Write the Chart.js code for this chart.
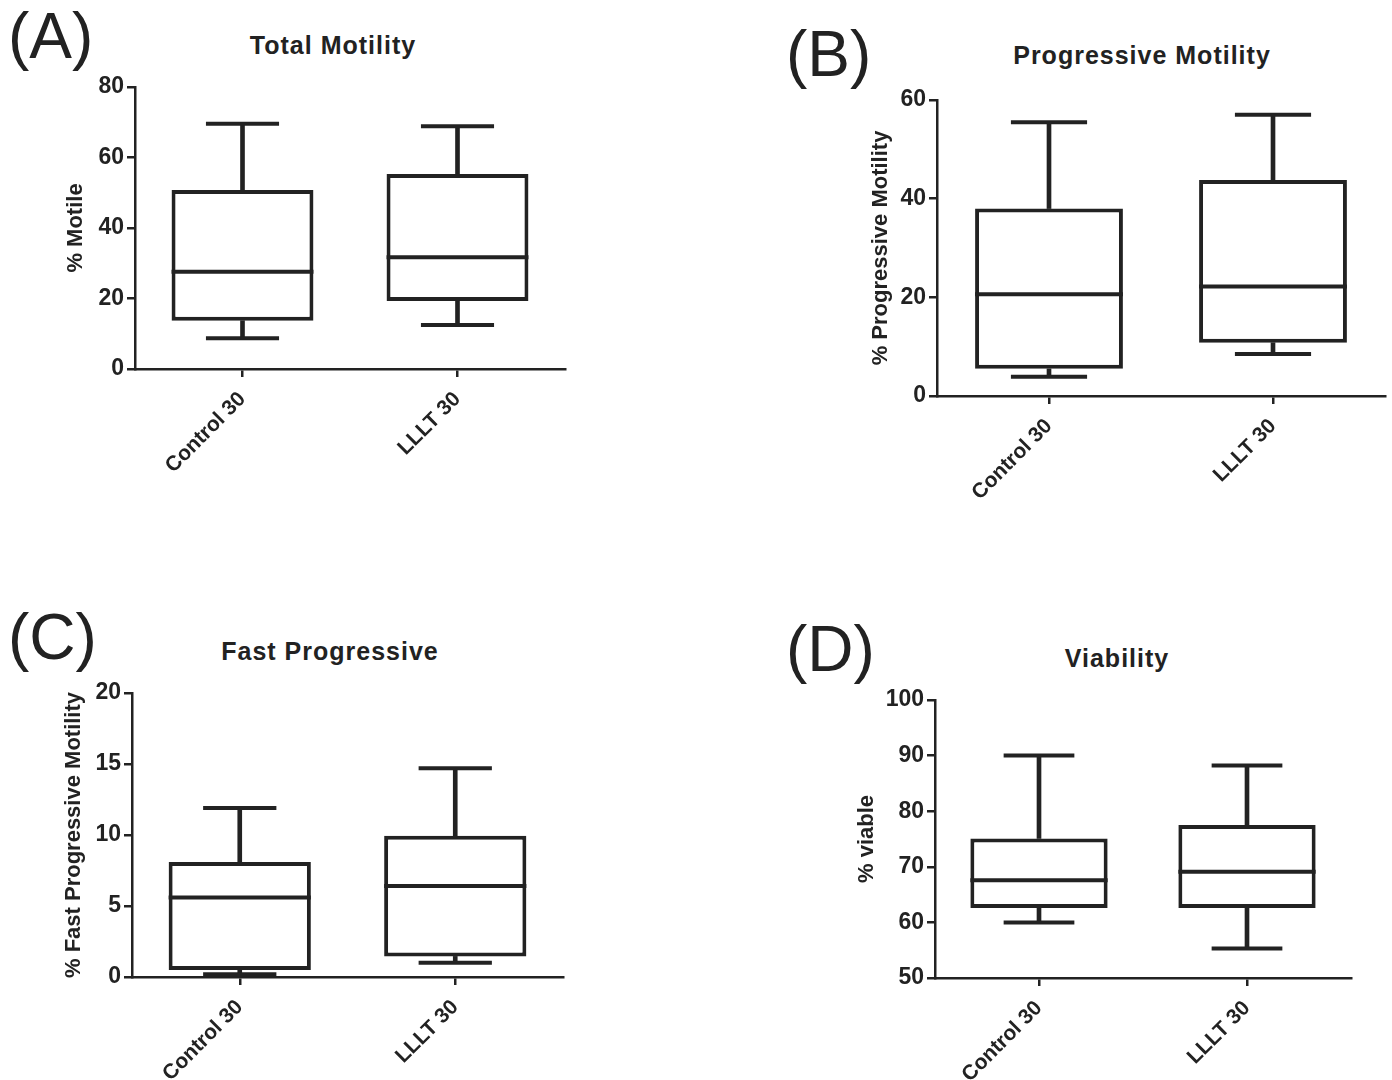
<!DOCTYPE html>
<html><head><meta charset="utf-8">
<script src="https://cdn.jsdelivr.net/npm/chart.js@4/dist/chart.umd.min.js"></script>
<style>
html,body{margin:0;padding:0;background:#fff;width:1392px;height:1080px;overflow:hidden;}
canvas{position:absolute;}
.lab{position:absolute;font-family:'Liberation Sans',Arial,sans-serif;font-size:64px;color:#222;line-height:1;white-space:nowrap;}
.ttl{position:absolute;font-family:'Liberation Sans',Arial,sans-serif;font-weight:bold;font-size:25px;color:#222;letter-spacing:1px;transform:translate(-50%,-50%);white-space:nowrap;}
</style></head><body>
<div class="lab" style="left:8px;top:4px">(A)</div>
<div class="lab" style="left:786px;top:22px">(B)</div>
<div class="lab" style="left:8px;top:605px">(C)</div>
<div class="lab" style="left:786px;top:617px">(D)</div>
<div class="ttl" style="left:333px;top:45px">Total Motility</div>
<div class="ttl" style="left:1142px;top:55px">Progressive Motility</div>
<div class="ttl" style="left:330px;top:651px">Fast Progressive</div>
<div class="ttl" style="left:1117px;top:658px">Viability</div>
<canvas id="cA" width="696" height="540" style="left:0;top:0"></canvas>
<canvas id="cB" width="696" height="540" style="left:696px;top:0"></canvas>
<canvas id="cC" width="696" height="540" style="left:0;top:540px"></canvas>
<canvas id="cD" width="696" height="540" style="left:696px;top:540px"></canvas>
<script>
// ---- data ----
const categories = ['Control 30', 'LLLT 30'];

// (A) Total Motility
const totalMin    = [8.7, 12.5];
const totalQ1     = [13.7, 19.3];
const totalMedian = [27.6, 31.7];
const totalQ3     = [50.8, 55.3];
const totalMax    = [69.6, 68.9];
const totalTicks  = [0, 20, 40, 60, 80];

// (B) Progressive Motility
const progMin    = [3.9, 8.5];
const progQ1     = [5.5, 10.8];
const progMedian = [20.6, 22.2];
const progQ3     = [38.0, 43.8];
const progMax    = [55.5, 57.0];
const progTicks  = [0, 20, 40, 60];

// (C) Fast Progressive
const fastMin    = [0.2, 1.0];
const fastQ1     = [0.5, 1.45];
const fastMedian = [5.6, 6.4];
const fastQ3     = [8.1, 9.95];
const fastMax    = [11.9, 14.7];
const fastTicks  = [0, 5, 10, 15, 20];

// (D) Viability
const viaMin    = [60.0, 55.3];
const viaQ1     = [62.6, 62.6];
const viaMedian = [67.6, 69.1];
const viaQ3     = [75.1, 77.5];
const viaMax    = [90.0, 88.2];
const viaTicks  = [50, 60, 70, 80, 90, 100];

// ---- styling / rendering ----
const INK = '#222';
const FONT = "'Liberation Sans', Arial, sans-serif";
const NARROW = "'Liberation Sans Narrow', 'Arial Narrow', 'Liberation Sans', Arial, sans-serif";
const BOX_FRAC = 0.66;
const CAP_FRAC = 0.34;

function catHalf(c, frac) {
  const s = c.chart.scales && c.chart.scales.x;
  if (!s) return 0;
  return (s.right - s.left) / categories.length * frac / 2;
}

function makeBox(id, s, layout) {
  const datasets = [
    { type:'bar', data: categories.map((_, i) => [s.min[i], s.q1[i]]), barThickness:4, backgroundColor:INK, borderWidth:0, grouped:false, order:2 },
    { type:'bar', data: categories.map((_, i) => [s.q3[i], s.max[i]]), barThickness:4, backgroundColor:INK, borderWidth:0, grouped:false, order:2 },
    { type:'bar', data: categories.map((_, i) => [s.q1[i], s.q3[i]]), backgroundColor:'#fff', borderColor:INK, borderWidth:4, borderSkipped:false, barPercentage:BOX_FRAC, categoryPercentage:1, grouped:false, order:1 },
    { type:'line', data: s.median, showLine:false, pointStyle:'line', pointRadius:c => catHalf(c, BOX_FRAC), pointBorderWidth:4, pointBorderColor:INK, order:0 },
    { type:'line', data: s.max, showLine:false, pointStyle:'line', pointRadius:c => catHalf(c, CAP_FRAC), pointBorderWidth:4, pointBorderColor:INK, order:0 },
    { type:'line', data: s.min, showLine:false, pointStyle:'line', pointRadius:c => catHalf(c, CAP_FRAC), pointBorderWidth:4, pointBorderColor:INK, order:0 }
  ];
  const ticks = s.ticks;
  new Chart(document.getElementById(id), {
    type:'bar',
    data:{ labels: categories, datasets },
    options:{
      responsive:false, animation:false,
      layout:{ autoPadding:false, padding:layout.pad },
      plugins:{ legend:{display:false}, tooltip:{enabled:false}, title:{display:false} },
      scales:{
        x:{
          type:'category', offset:true,
          grid:{ display:true, offset:false, drawOnChartArea:false, drawTicks:true, tickLength:8, color:INK, lineWidth:2.5 },
          border:{ display:true, color:INK, width:2.5 },
          ticks:{ color:INK, font:{family:FONT, size:21, weight:'bold'}, maxRotation:45, minRotation:45, autoSkip:false, padding:10 },
          afterFit: a => { a.height = layout.xh; a.paddingLeft = 0; a.paddingRight = 0; a.paddingTop = 0; a.paddingBottom = 0; }
        },
        y:{
          min: ticks[0], max: ticks[ticks.length - 1],
          afterBuildTicks: a => { a.ticks = ticks.map(v => ({ value: v })); },
          grid:{ display:true, drawOnChartArea:false, drawTicks:true, tickLength:8, color:INK, lineWidth:2.5 },
          border:{ display:true, color:INK, width:2.5 },
          ticks:{ color:INK, font:{family:NARROW, size:23, weight:'bold'}, padding:3 },
          title:{ display:true, text:s.ytitle, color:INK, font:{family:FONT, size:22, weight:'bold'}, padding:0 },
          afterFit: a => { a.width = layout.yw; a.paddingTop = 0; a.paddingBottom = 0; a.paddingLeft = 0; a.paddingRight = 0; }
        }
      }
    }
  });
}

makeBox('cA', { min:totalMin, q1:totalQ1, median:totalMedian, q3:totalQ3, max:totalMax, ticks:totalTicks, ytitle:'% Motile' },
  { pad:{left:63, top:87, right:131, bottom:0}, yw:72, xh:171 });
makeBox('cB', { min:progMin, q1:progQ1, median:progMedian, q3:progQ3, max:progMax, ticks:progTicks, ytitle:'% Progressive Motility' },
  { pad:{left:172, top:100, right:7, bottom:0}, yw:69, xh:144 });
makeBox('cC', { min:fastMin, q1:fastQ1, median:fastMedian, q3:fastQ3, max:fastMax, ticks:fastTicks, ytitle:'% Fast Progressive Motility' },
  { pad:{left:61, top:153, right:133, bottom:0}, yw:71, xh:103 });
makeBox('cD', { min:viaMin, q1:viaQ1, median:viaMedian, q3:viaQ3, max:viaMax, ticks:viaTicks, ytitle:'% viable' },
  { pad:{left:158, top:160, right:41, bottom:0}, yw:81, xh:102 });
</script>
</body></html>
